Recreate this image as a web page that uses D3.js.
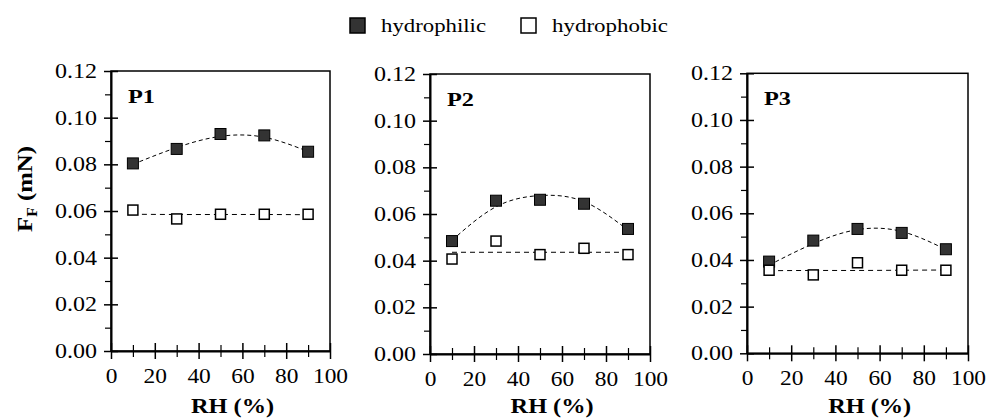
<!DOCTYPE html>
<html>
<head>
<meta charset="utf-8">
<script src="https://cdn.jsdelivr.net/npm/d3@7"></script>
<style>
  body { margin: 0; background: #fff; }
</style>
</head>
<body>
<svg id="chart" width="990" height="418"></svg>
<script>
// Data.
const rh = [10, 30, 50, 70, 90];
const panelNames = ["P1", "P2", "P3"];
const hydrophilic = [
  [0.0804, 0.0866, 0.0930, 0.0924, 0.0854],
  [0.0484, 0.0657, 0.0661, 0.0644, 0.0536],
  [0.0393, 0.0483, 0.0533, 0.0516, 0.0446],
];
const hydrophobic = [
  [0.0604, 0.0566, 0.0586, 0.0586, 0.0586],
  [0.0407, 0.0484, 0.0426, 0.0453, 0.0426],
  [0.0356, 0.0336, 0.0388, 0.0356, 0.0356],
];
// Fitted dashed curves, read at the same RH values.
const hydrophilicFit = [
  [0.0800, 0.0872, 0.0920, 0.0916, 0.0855],
  [0.0487, 0.0631, 0.0679, 0.0653, 0.0531],
  [0.0378, 0.0470, 0.0530, 0.0522, 0.0445],
];
const hydrophobicFit = [
  [0.0586, 0.0585, 0.0585, 0.0585, 0.0584],
  [0.0436, 0.0436, 0.0436, 0.0436, 0.0436],
  [0.0354, 0.0355, 0.0355, 0.0356, 0.0357],
];
const xTicks = [0, 20, 40, 60, 80, 100];
const xMinor = [10, 30, 50, 70, 90];
const yTicks = [0, 0.02, 0.04, 0.06, 0.08, 0.1, 0.12];
const yMinor = [0.01, 0.03, 0.05, 0.07, 0.09, 0.11];
const legendLabels = ["hydrophilic", "hydrophobic"];

// Panel boxes in the picture.
const boxes = [
  { left: 111, right: 330, top: 71, bottom: 351 },
  { left: 430, right: 650, top: 74, bottom: 354 },
  { left: 747, right: 968, top: 73.3, bottom: 353.3 },
];

const FONT = '"Liberation Serif", "Times New Roman", Times, "DejaVu Serif", serif';
const svg = d3.select("#chart");

// Squeeze or stretch a text to the width it has in the picture.
function fit(sel, width) {
  sel.each(function (d, i) {
    const w = typeof width === "function" ? width.call(this, d, i) : width;
    d3.select(this).attr("textLength", w).attr("lengthAdjust", "spacingAndGlyphs");
  });
}

/**
 * Panels.
 */
boxes.forEach((b, i) => {
  const x = d3.scaleLinear().domain([0, 100]).range([b.left, b.right]);
  const y = d3.scaleLinear().domain([0, 0.12]).range([b.bottom, b.top]);
  const g = svg.append("g");

  // Frame (top and right).
  g.append("rect")
    .attr("x", b.left)
    .attr("y", b.top)
    .attr("width", b.right - b.left)
    .attr("height", b.bottom - b.top)
    .attr("fill", "none")
    .attr("stroke", "#000")
    .attr("stroke-width", 1.5);

  // X axis, major ticks crossing the line.
  const gx = g.append("g")
    .attr("transform", `translate(0,${b.bottom})`)
    .call(d3.axisBottom(x).tickValues(xTicks).tickFormat(d3.format("d"))
      .tickSize(8).tickSizeOuter(0).tickPadding(9));
  gx.selectAll(".tick line").attr("y1", -8).attr("y2", 8).attr("stroke-width", 1.5);
  gx.select(".domain").attr("stroke-width", 2);
  gx.selectAll("text")
    .style("font-family", FONT)
    .style("font-size", "20.5px")
    .call(fit, (d) => String(d).length * 11.7);

  const gxm = g.append("g")
    .attr("transform", `translate(0,${b.bottom})`)
    .call(d3.axisBottom(x).tickValues(xMinor).tickFormat("").tickSize(6).tickSizeOuter(0));
  gxm.select(".domain").remove();
  gxm.selectAll(".tick line").attr("y1", -6).attr("y2", 6).attr("stroke-width", 1.2);

  // Y axis.
  const gy = g.append("g")
    .attr("transform", `translate(${b.left},0)`)
    .call(d3.axisLeft(y).tickValues(yTicks).tickFormat(d3.format(".2f"))
      .tickSize(7).tickSizeOuter(0).tickPadding(7));
  gy.selectAll(".tick line").attr("x1", 7).attr("stroke-width", 1.5);
  gy.select(".domain").attr("stroke-width", 2);
  gy.selectAll("text")
    .style("font-family", FONT)
    .style("font-size", "20.5px")
    .call(fit, 42);

  const gym = g.append("g")
    .attr("transform", `translate(${b.left},0)`)
    .call(d3.axisLeft(y).tickValues(yMinor).tickFormat("").tickSize(6).tickSizeOuter(0));
  gym.select(".domain").remove();
  gym.selectAll(".tick line").attr("stroke-width", 1.2);

  // Panel name.
  g.append("text")
    .attr("x", b.left + 17)
    .attr("y", b.top + 32)
    .style("font-family", FONT)
    .style("font-size", "19.5px")
    .style("font-weight", "bold")
    .text(panelNames[i])
    .call(fit, 27);

  // X axis title.
  g.append("text")
    .attr("x", x(55.5))
    .attr("y", 413)
    .attr("text-anchor", "middle")
    .style("font-family", FONT)
    .style("font-size", "21px")
    .style("font-weight", "bold")
    .text("RH (%)")
    .call(fit, 83);

  // Fitted curves.
  const line = d3.line()
    .x((d, j) => x(rh[j]))
    .y((d) => y(d))
    .curve(d3.curveNatural);

  g.append("path")
    .attr("d", line(hydrophilicFit[i]))
    .attr("fill", "none")
    .attr("stroke", "#000")
    .attr("stroke-width", 1)
    .attr("stroke-dasharray", "4,3");

  g.append("path")
    .attr("d", line(hydrophobicFit[i]))
    .attr("fill", "none")
    .attr("stroke", "#000")
    .attr("stroke-width", 1)
    .attr("stroke-dasharray", "5,4");

  // Markers.
  const s = 11;
  g.selectAll(".philic")
    .data(hydrophilic[i])
    .enter()
    .append("rect")
    .attr("x", (d, j) => x(rh[j]) - s / 2)
    .attr("y", (d) => y(d) - s / 2)
    .attr("width", s)
    .attr("height", s)
    .attr("fill", "#333")
    .attr("stroke", "#000")
    .attr("stroke-width", 1);

  g.selectAll(".phobic")
    .data(hydrophobic[i])
    .enter()
    .append("rect")
    .attr("x", (d, j) => x(rh[j]) - s / 2 + 0.5)
    .attr("y", (d) => y(d) - s / 2 + 0.5)
    .attr("width", s - 1)
    .attr("height", s - 1)
    .attr("fill", "#fff")
    .attr("stroke", "#000")
    .attr("stroke-width", 1.5);
});

/**
 * Y axis title.
 */
const yTitle = svg.append("text")
  .attr("transform", "translate(32,189) rotate(-90)")
  .attr("text-anchor", "middle")
  .style("font-family", FONT)
  .style("font-size", "22px")
  .style("font-weight", "bold");
yTitle.append("tspan").text("F");
yTitle.append("tspan").style("font-size", "14px").attr("dy", 5).text("F");
yTitle.append("tspan").attr("dy", -5).text(" (mN)");
yTitle.call(fit, 86);

/**
 * Legend.
 */
const legendX = [350, 521];
const legendWidths = [105, 116];
legendLabels.forEach((label, i) => {
  svg.append("rect")
    .attr("x", legendX[i])
    .attr("y", 18)
    .attr("width", 15)
    .attr("height", 15)
    .attr("fill", i === 0 ? "#333" : "#fff")
    .attr("stroke", "#000")
    .attr("stroke-width", 1.5);
  svg.append("text")
    .attr("x", legendX[i] + 31)
    .attr("y", 32)
    .style("font-family", FONT)
    .style("font-size", "19px")
    .text(label)
    .call(fit, legendWidths[i]);
});
</script>
</body>
</html>
